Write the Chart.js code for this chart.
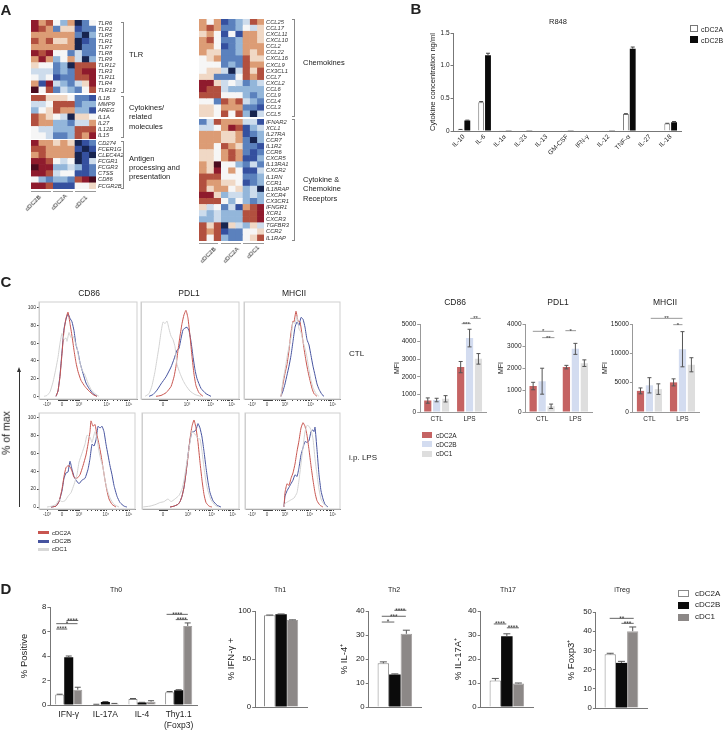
<!DOCTYPE html>
<html>
<head>
<meta charset="utf-8">
<script src="https://cdn.jsdelivr.net/npm/chart.js@4/dist/chart.umd.min.js"></script>
<style>
html, body { margin: 0; padding: 0; background: #fff; }
#page { position: relative; width: 727px; height: 733px; overflow: hidden; font-family: "Liberation Sans", Arial, sans-serif; color: #222; }
#page canvas { position: absolute; }
.t { position: absolute; white-space: nowrap; line-height: 1; will-change: transform; }
.s { position: absolute; box-sizing: border-box; }
</style>
</head>
<body>
<div id="page"></div>
<script>
// panel A: expression level per cell, X R r o p w c l b B N = high to low
const tlrGenes = ["TLR6","TLR2","TLR5","TLR1","TLR7","TLR8","TLR9","TLR12","TLR3","TLR11","TLR4","TLR13"];
const tlrCells = ["RorwloNbw","RrobppBbb","oooooobNl","rorppoNBb","ooooooNbb","RrRwwbcbb","oRolwocNl","pwwblNrrr","cccblbrRR","wcwBbbrrR","oBRclbcpR","Xwrbclbwr"];
const cytoGenes = ["IL1B","MMP9","AREG","IL1A","IL27","IL12B","IL15"];
const cytoCells = ["rrpppwbbB","ccwrrrbll","lwproollB","ropwcNppw","roollbcco","wcclllrrr","wwcbblroR"];
const apcGenes = ["CD274","FCER1G","CLEC4A2","FCGR1","FCGR3","CTSS","CD86","FCGR2B"];
const apcCells = ["RoopopNBb","rrooooBNB","orooooNBN","RRrwcwNBc","XRRllclBb","RRrcwwBBb","wlbllbrRX","RRrBBBwwp"];
const chemoGenes = ["CCL25","CCL17","CXCL11","CXCL10","CCL2","CCL22","CXCL16","CXCL9","CX3CL1","CCL7","CXCL2","CCL6","CCL9","CCL4","CCL3","CCL5"];
const chemoCells = ["owoBblcro","orobblwcp","powBwBoop","orwbbloop","oowBblooo","oppbblopo","wpobbbrpp","wwwblbroo","wppcNcrpr","ppbbbwror","RRpcwcblc","Rrrclllll","rrrwwwlbl","wwbrorclb","ppwooobbB","ppwrwrlNc"];
const recGenes = ["IFNAR2","XCL1","IL27RA","CCR7","IL1R2","CCR6","CXCR5","IL13RA1","CXCR2","IL1RN","CCR1","IL18RAP","CXCR4","CX3CR1","IFNGR1","XCR1","CXCR3","TGFBR3","CCR2","IL1RAP"];
const recCells = ["bcroooccB","ccwoRrBlc","oooppoBbl","oooppobNl","oowropbbB","ppworobBb","ppworoBBl","opXwwlbcb","opRwowBBc","rrrwwwbbl","rooppwBbl","rpoowplcN","RRplcclcl","rrrwlwlbl","pcwbcBorR","clclllrrR","llclllrrR","rprNpclpc","rorBbbwwp","rwrlbbwpr"];
const heatLevels = { X:"#4b0b1e", R:"#8f1b2d", r:"#b2503f", o:"#dc9c75", p:"#f0d8c5", w:"#f6f6f6", c:"#cddcec", l:"#93b6da", b:"#5b81bd", B:"#35509f", N:"#17244f" };

// panel B
const r848Labels = ["IL-10","IL-6","IL-1α","IL-23","IL-13","GM-CSF","IFN-γ","IL-12","TNF-α","IL-27","IL-18"];
const r848A = [0.02,0.44,0.005,0.008,0,0.003,0,0.003,0.26,0.003,0.115];
const r848B = [0.16,1.16,0.005,0.01,0,0.003,0,0.002,1.26,0.006,0.135];
const r848AErr = [0.004,0.01,0,0,0,0,0,0,0.005,0,0.003];
const r848BErr = [0.006,0.03,0,0,0,0,0,0,0.025,0,0.01];

// panel C histograms, [axis position, % of max]
const cd86CtlA = [[17,0],[19,6],[21,22],[23,48],[25,74],[27,88],[29,95],[31,82],[33,68],[35,52],[37,38],[39,28],[42,18],[46,11],[50,6],[54,2],[58,0]];
const cd86CtlB = [[17,0],[19,6],[21,24],[23,50],[25,76],[27,87],[29,93],[31,88],[33,84],[35,74],[37,58],[39,50],[41,38],[44,26],[47,15],[50,9],[54,3],[58,0]];
const cd86CtlG = [[5,0],[8,1],[11,5],[14,16],[17,32],[19,44],[21,60],[23,71],[25,64],[27,66],[28,62],[30,72],[32,66],[34,68],[36,62],[38,55],[40,42],[43,30],[46,24],[49,15],[52,8],[56,3],[60,0]];
const pdl1CtlA = [[15,0],[20,1],[25,4],[30,11],[33,22],[35,34],[37,52],[39,68],[41,82],[43,92],[45,97],[47,88],[49,68],[51,45],[53,25],[55,12],[58,4],[62,0]];
const pdl1CtlB = [[8,0],[12,2],[16,7],[20,14],[25,22],[30,33],[33,42],[36,52],[38,54],[40,65],[42,75],[44,77],[46,78],[48,74],[50,62],[52,45],[54,30],[56,20],[60,9],[65,3],[70,0]];
const pdl1CtlG = [[4,0],[8,3],[11,12],[14,28],[16,42],[18,56],[20,72],[22,84],[24,82],[26,85],[28,76],[30,68],[32,64],[34,56],[36,36],[39,26],[42,18],[45,12],[49,6],[54,2],[60,0]];
const mhcCtlA = [[37,0],[39,14],[41,26],[43,36],[45,52],[47,72],[49,85],[50,84],[52,96],[54,85],[56,84],[58,70],[60,54],[62,40],[64,28],[66,18],[68,9],[70,3],[73,0]];
const mhcCtlB = [[37,0],[39,6],[41,14],[43,24],[45,34],[47,46],[49,62],[51,78],[53,84],[55,80],[57,89],[59,87],[61,78],[63,64],[65,58],[67,46],[69,34],[71,24],[73,14],[75,8],[78,2],[80,0]];
const mhcCtlG = [[37,0],[39,18],[41,30],[43,44],[45,56],[47,66],[49,84],[51,82],[53,90],[55,76],[57,72],[59,62],[61,54],[63,44],[65,30],[67,18],[69,10],[72,3],[75,0]];
const cd86LpsA = [[12,0],[17,1],[20,6],[23,20],[25,34],[27,44],[29,46],[31,45],[33,40],[35,33],[38,32],[41,36],[44,46],[47,58],[49,70],[51,84],[52,96],[54,90],[56,92],[58,80],[60,70],[62,58],[64,44],[66,30],[68,18],[70,9],[73,3],[77,0]];
const cd86LpsB = [[12,0],[17,1],[20,6],[23,18],[25,32],[27,38],[29,39],[31,51],[33,42],[35,34],[37,30],[40,26],[43,30],[46,32],[49,42],[51,54],[53,70],[55,68],[57,75],[59,90],[61,88],[63,90],[65,84],[67,70],[69,58],[71,46],[73,36],[75,24],[78,12],[81,5],[85,1],[88,0]];
const cd86LpsG = [[8,0],[13,1],[17,3],[20,8],[23,6],[26,7],[29,12],[32,16],[35,25],[38,36],[40,50],[43,60],[46,70],[48,80],[51,78],[53,72],[56,84],[58,76],[60,62],[62,52],[64,44],[66,30],[68,20],[71,10],[75,3],[80,0]];
const pdl1LpsA = [[28,0],[32,1],[36,3],[38,6],[40,12],[42,22],[44,38],[46,56],[48,76],[50,90],[52,97],[54,88],[56,72],[58,50],[60,30],[62,14],[64,5],[67,1],[70,0]];
const pdl1LpsB = [[28,0],[32,1],[36,3],[38,6],[40,12],[42,22],[44,38],[46,58],[48,74],[50,84],[52,84],[54,86],[56,93],[58,88],[60,78],[62,62],[64,44],[66,28],[68,16],[71,7],[75,2],[79,0]];
const pdl1LpsG = [[0,0],[8,1],[14,3],[18,5],[22,6],[26,9],[29,6],[33,9],[37,13],[40,20],[42,30],[44,44],[46,58],[48,72],[50,85],[52,82],[54,80],[56,76],[58,76],[60,62],[62,44],[64,28],[66,18],[69,8],[73,2],[77,0]];
const mhcLpsA = [[39,0],[40,16],[42,26],[44,24],[46,32],[48,38],[50,48],[52,62],[54,74],[56,88],[58,94],[60,90],[62,80],[64,64],[66,46],[68,30],[70,16],[72,7],[75,2],[78,0]];
const mhcLpsB = [[39,0],[40,12],[42,18],[44,22],[46,26],[48,30],[50,36],[52,34],[54,44],[56,58],[58,66],[60,73],[62,72],[64,74],[66,84],[68,86],[69,84],[70,89],[72,64],[74,36],[76,18],[78,9],[80,3],[83,0]];
const mhcLpsG = [[39,0],[40,4],[43,6],[46,8],[49,10],[52,16],[54,30],[56,48],[58,66],[60,84],[62,91],[64,90],[66,86],[68,76],[70,54],[72,36],[74,20],[76,9],[79,3],[82,0]];
const histTickLabels = ["-10³","0","10³","10⁴","10⁵"];

// panel C bars
const treatLabels = ["CTL","LPS"];
const cd86MfiA = [650,2550], cd86MfiB = [680,4200], cd86MfiG = [750,3020];
const cd86ErrA = [150,320], cd86ErrB = [100,500], cd86ErrG = [180,300];
const pdl1MfiA = [1180,2040], pdl1MfiB = [1400,2870], pdl1MfiG = [260,2220];
const pdl1ErrA = [170,80], pdl1ErrB = [590,250], pdl1ErrG = [100,150];
const mhcMfiA = [3600,5050], mhcMfiB = [4550,10700], mhcMfiG = [3900,8050];
const mhcErrA = [500,600], mhcErrB = [1300,3000], mhcErrG = [900,1200];

// panel D
const th0Labels = ["IFN-γ","IL-17A","IL-4",["Thy1.1","(Foxp3)"]];
const th0A = [0.85,0.05,0.5,1.05], th0B = [3.9,0.25,0.2,1.2], th0G = [1.25,0.1,0.27,6.45];
const th0ErrA = [0.03,0.01,0.03,0.05], th0ErrB = [0.1,0.03,0.02,0.05], th0ErrG = [0.2,0.03,0.08,0.25];
const th1Vals = [95.5,96.5,90.5], th1Err = [0.3,0.4,0.3];
const th2Vals = [18.2,13.5,30.5], th2Err = [0.6,0.3,1.5];
const th17Vals = [11,29.5,9.8], th17Err = [0.9,1,0.2];
const tregVals = [28,23.5,40], tregErr = [0.5,0.8,2.2];

const page = document.getElementById("page");
Chart.defaults.font.family = '"Liberation Sans", Arial, sans-serif';
Chart.defaults.color = "#222";
Chart.defaults.animation = false;
Chart.defaults.plugins.legend.display = false;
Chart.defaults.plugins.tooltip.enabled = false;

function text(str, x, y, size, extra) {
    let el = document.createElement("div");
    let o = extra || {};
    el.className = "t";
    el.textContent = str;
    el.style.left = x + "px";
    el.style.top = y + "px";
    el.style.fontSize = size + "px";
    if (o.bold) el.style.fontWeight = "bold";
    let shift = o.left ? "translate(0,-50%)" : "translate(-50%,-50%)";
    el.style.transform = shift + (o.rotate ? " rotate(" + o.rotate + "deg)" : "");
    page.appendChild(el);
}

function shape(x, y, w, h, css) {
    let el = document.createElement("div");
    el.className = "s";
    el.style.cssText = "left:" + x + "px;top:" + y + "px;width:" + w + "px;height:" + h + "px;" + css;
    page.appendChild(el);
}

function bracket(x, y, h) {
    shape(x, y, 3, h, "border:1px solid #888;border-left:none;");
}

// canvas placed so that the chart area lands exactly on box [x, y, w, h]
function makeCanvas(box, m) {
    let c = document.createElement("canvas");
    c.width = m.l + box[2] + m.r;
    c.height = m.t + box[3] + m.b;
    c.style.left = (box[0] - m.l) + "px";
    c.style.top = (box[1] - m.t) + "px";
    page.appendChild(c);
    return c;
}

function fixed(m) {
    return {
        layout: { padding: { top: m.t, right: m.r, left: 0, bottom: 0 } },
        responsive: false,
        devicePixelRatio: 1
    };
}

function heatmap(box, genes, cells) {
    let m = { l: 0, r: 50, t: 0, b: 0 };
    let datasets = [];
    for (let col = 0; col < 9; col++) {
        datasets.push({
            data: genes.map(() => 1),
            backgroundColor: cells.map(row => heatLevels[row[col]]),
            borderWidth: 0,
            barPercentage: 1,
            categoryPercentage: 1
        });
    }
    new Chart(makeCanvas(box, m), {
        type: "bar",
        data: { labels: genes, datasets: datasets },
        options: Object.assign(fixed({ t: 0, r: 0 }), {
            indexAxis: "y",
            scales: {
                x: { display: false, stacked: true, min: 0, max: 9 },
                y: {
                    stacked: true,
                    position: "right",
                    afterFit: s => { s.width = m.r; s.paddingTop = 0; s.paddingBottom = 0; },
                    grid: { display: false, drawTicks: false },
                    border: { display: false },
                    ticks: { autoSkip: false, padding: 2, font: { size: 5.8, style: "italic" }, color: "#333" }
                }
            }
        })
    });
}

const errorPlugin = (errs, both, cap, color) => ({
    id: "errs",
    afterDatasetsDraw(chart) {
        let ctx = chart.ctx;
        let yScale = chart.scales.y;
        ctx.save();
        ctx.strokeStyle = color;
        ctx.lineWidth = 1;
        errs.forEach((arr, i) => {
            chart.getDatasetMeta(i).data.forEach((bar, j) => {
                if (!arr[j]) return;
                let v = chart.data.datasets[i].data[j];
                let top = yScale.getPixelForValue(v + arr[j]);
                let bottom = both ? yScale.getPixelForValue(v - arr[j]) : bar.y;
                ctx.beginPath();
                ctx.moveTo(bar.x, bottom);
                ctx.lineTo(bar.x, top);
                ctx.moveTo(bar.x - cap, top);
                ctx.lineTo(bar.x + cap, top);
                if (both) {
                    ctx.moveTo(bar.x - cap, bottom);
                    ctx.lineTo(bar.x + cap, bottom);
                }
                ctx.stroke();
            });
        });
        ctx.restore();
    }
});

// each line: [from, to (category units), y value, stars]
const sigPlugin = (lines, color, size) => ({
    id: "sig",
    afterDraw(chart) {
        let ctx = chart.ctx;
        ctx.save();
        ctx.strokeStyle = color;
        ctx.fillStyle = "#333";
        ctx.lineWidth = 1;
        ctx.font = size + 'px "Liberation Sans"';
        ctx.textAlign = "center";
        lines.forEach(l => {
            let x1 = chart.scales.x.getPixelForValue(l[0]);
            let x2 = chart.scales.x.getPixelForValue(l[1]);
            let y = chart.scales.y.getPixelForValue(l[2]);
            ctx.beginPath();
            ctx.moveTo(x1, y);
            ctx.lineTo(x2, y);
            ctx.stroke();
            ctx.fillText(l[3], (x1 + x2) / 2, y + size * 0.35);
        });
        ctx.restore();
    }
});

function barChart(o) {
    let titleSize = o.titleSize || 8;
    let m = { l: o.box[0] - o.titleX + titleSize * 0.6, r: 8, t: 30, b: 40 };
    let datasets = o.series.map(s => ({
        data: s.values,
        backgroundColor: s.style.bg,
        borderColor: s.style.line || s.style.bg,
        borderWidth: s.style.line ? 1 : 0,
        barPercentage: o.bar,
        categoryPercentage: o.cat
    }));
    let plugins = [errorPlugin(o.series.map(s => s.err), o.both, o.cap, o.errColor || "#555")];
    if (o.lines) plugins.push(sigPlugin(o.lines, o.sigColor || "#666", o.sigSize || 6.5));
    new Chart(makeCanvas(o.box, m), {
        type: "bar",
        data: { labels: o.labels, datasets: datasets },
        plugins: plugins,
        options: Object.assign(fixed(m), {
            scales: {
                x: {
                    afterFit: s => { s.height = m.b; },
                    grid: { display: false, drawTicks: false },
                    border: { color: o.axisColor || "#777" },
                    ticks: {
                        autoSkip: false,
                        padding: o.xPad === undefined ? 3 : o.xPad,
                        minRotation: o.xRotate || 0,
                        maxRotation: o.xRotate || 0,
                        font: { size: o.xSize || o.tickSize }
                    }
                },
                y: {
                    min: 0, max: o.max,
                    afterFit: s => { s.width = m.l; },
                    grid: { drawOnChartArea: false, tickLength: 3, color: o.axisColor || "#777" },
                    border: { color: o.axisColor || "#777" },
                    title: { display: true, text: o.yTitle, padding: 0, font: { size: titleSize } },
                    ticks: { stepSize: o.step, padding: 1, font: { size: o.tickSize }, callback: o.yFmt || (v => v) }
                }
            }
        })
    });
}

const framePlugin = {
    id: "frame",
    beforeDatasetsDraw(chart) {
        let a = chart.chartArea;
        chart.ctx.save();
        chart.ctx.strokeStyle = "#cfcfcf";
        chart.ctx.lineWidth = 1;
        chart.ctx.strokeRect(a.left, a.top, a.right - a.left, a.bottom - a.top);
        chart.ctx.restore();
    }
};

function histogram(box, yRange, majors, tops, showY) {
    let m = { l: 24, r: 4, t: 4, b: 12 };
    let tickVals = [];
    majors.forEach((p, i) => {
        tickVals.push(p);
        if (i > 0 && majors[i + 1] !== undefined) {
            [2, 3, 4, 5, 6, 7, 8, 9].forEach(k => tickVals.push(p + (majors[i + 1] - p) * Math.log10(k)));
        }
    });
    let zero = majors[majors.length - 4];
    [-4, -3, -2, -1, 1, 2, 3, 4].forEach(d => tickVals.push(zero + d));
    let labelFor = {};
    let offset = 5 - majors.length;
    majors.forEach((p, i) => { labelFor[p] = histTickLabels[i + offset]; });
    let colors = ["#d2d2d2", "#c8554f", "#46539f"];
    new Chart(makeCanvas(box, m), {
        type: "line",
        data: {
            datasets: tops.map((series, i) => ({
                data: series,
                borderColor: colors[i],
                borderWidth: 1,
                pointRadius: 0,
                tension: 0.15
            }))
        },
        plugins: [framePlugin],
        options: Object.assign(fixed(m), {
            scales: {
                x: {
                    type: "linear", min: 0, max: box[2],
                    afterFit: s => { s.height = m.b; },
                    afterBuildTicks: s => { s.ticks = tickVals.map(v => ({ value: v })); },
                    grid: { drawOnChartArea: false, tickLength: 2, color: "#444" },
                    border: { color: "#888" },
                    ticks: {
                        autoSkip: false, maxRotation: 0, minRotation: 0, padding: 1,
                        font: { size: 4.5 }, color: "#444",
                        callback: v => labelFor[v] || ""
                    }
                },
                y: {
                    min: yRange[0], max: yRange[1],
                    afterFit: s => { s.width = m.l; },
                    afterBuildTicks: s => { s.ticks = (showY ? [0, 20, 40, 60, 80, 100] : []).map(v => ({ value: v })); },
                    grid: { drawOnChartArea: false, tickLength: 2, color: "#444" },
                    border: { color: "#cfcfcf" },
                    ticks: { padding: 1, font: { size: 5 }, color: "#333" }
                }
            }
        })
    });
}

// ---- panel letters
text("A", 6, 9, 15, { bold: true });
text("B", 416, 8, 15, { bold: true });
text("C", 6, 281, 15, { bold: true });
text("D", 6, 588, 15, { bold: true });

// ---- panel A
heatmap([31, 20, 65.5, 73.3], tlrGenes, tlrCells);
heatmap([31, 95, 65.5, 44], cytoGenes, cytoCells);
heatmap([31, 140, 65.5, 49.7], apcGenes, apcCells);
heatmap([199, 19.2, 65, 98.2], chemoGenes, chemoCells);
heatmap([199, 118.6, 65, 122.1], recGenes, recCells);

bracket(121, 22, 71);
bracket(121, 96, 42);
bracket(121, 141, 48);
text("TLR", 128.5, 55, 7.5, { left: true });
text("Cytokines/", 128.5, 108, 7.5, { left: true });
text("related", 128.5, 117, 7.5, { left: true });
text("molecules", 128.5, 126.5, 7.5, { left: true });
text("Antigen", 128.5, 159, 7.5, { left: true });
text("processing and", 128.5, 168, 7.5, { left: true });
text("presentation", 128.5, 177, 7.5, { left: true });
shape(31, 191, 20, 1, "background:#999;");
shape(53, 191, 20, 1, "background:#999;");
shape(75, 191, 21, 1, "background:#999;");
text("cDC2B", 33, 203, 6.2, { rotate: -45 });
text("cDC2A", 59, 202, 6.2, { rotate: -45 });
text("cDC1", 81, 202, 6.2, { rotate: -45 });

bracket(292, 19, 98);
bracket(292, 119, 122);
text("Chemokines", 302.5, 63, 7.5, { left: true });
text("Cytokine &", 302.5, 180, 7.5, { left: true });
text("Chemokine", 302.5, 189, 7.5, { left: true });
text("Receptors", 302.5, 198.5, 7.5, { left: true });
shape(199, 243, 19, 1, "background:#999;");
shape(221, 243, 20, 1, "background:#999;");
shape(243, 243, 21, 1, "background:#999;");
text("cDC2B", 208, 255, 6.2, { rotate: -45 });
text("cDC2A", 231, 255, 6.2, { rotate: -45 });
text("cDC1", 253, 252, 6.2, { rotate: -45 });

// ---- panel B
const whiteB = { bg: "#ffffff", line: "#777777" };
const blackB = { bg: "#0a0a0a" };
barChart({
    box: [453.5, 33, 228, 98], labels: r848Labels, max: 1.5, step: 0.5,
    series: [{ values: r848A, err: r848AErr, style: whiteB }, { values: r848B, err: r848BErr, style: blackB }],
    cat: 0.66, bar: 0.86, cap: 2, errColor: "#444", both: false,
    yTitle: "Cytokine concentration ng/ml", titleX: 432.5, titleSize: 7.6,
    tickSize: 6.5, xSize: 6.5, xRotate: 45, xPad: 2,
    yFmt: v => (v === 0 ? "0" : v.toFixed(1))
});
text("R848", 558, 22, 7.5);
shape(690, 25, 8, 7, "border:1px solid #777;background:#fff;");
shape(690, 36, 8, 7, "background:#0a0a0a;");
text("cDC2A", 701, 28.5, 7, { left: true });
text("cDC2B", 701, 39.5, 7, { left: true });

// ---- panel C histograms
histogram([39, 302, 98, 97.7], [-3, 106.4], [8, 23, 40, 68, 90], [cd86CtlG, cd86CtlA, cd86CtlB], true);
histogram([141, 302, 98, 97.7], [-3, 106.4], [22, 46, 70, 91], [pdl1CtlG, pdl1CtlA, pdl1CtlB], false);
histogram([244, 302, 96, 97.7], [-3, 106.4], [8, 23, 41, 67, 89], [mhcCtlG, mhcCtlA, mhcCtlB], false);
histogram([39, 412.7, 96, 96.3], [-2.2, 104.8], [8, 23, 40, 67, 90], [cd86LpsG, cd86LpsA, cd86LpsB], true);
histogram([142, 412.7, 97, 96.3], [-2.2, 104.8], [21, 46, 70, 91], [pdl1LpsG, pdl1LpsA, pdl1LpsB], false);
histogram([245, 412.7, 95, 96.3], [-2.2, 104.8], [7, 22, 40, 65, 88], [mhcLpsG, mhcLpsA, mhcLpsB], false);
text("CD86", 89, 293, 8.5);
text("PDL1", 188.5, 293, 8.5);
text("MHCII", 293.5, 293, 8.5);
text("CTL", 349, 354, 8, { left: true });
text("i.p. LPS", 349, 458, 8, { left: true });
text("% of max", 6, 433, 10.5, { rotate: -90 });
shape(19, 370, 1, 137, "background:#333;");
shape(17, 367, 0, 0, "border-left:2.5px solid transparent;border-right:2.5px solid transparent;border-bottom:5px solid #333;");
shape(38, 531, 11, 3, "background:#c8554f;");
shape(38, 539.5, 11, 3, "background:#46539f;");
shape(38, 547.5, 11, 3, "background:#d8d8d8;");
text("cDC2A", 52, 532.5, 6, { left: true });
text("cDC2B", 52, 541, 6, { left: true });
text("cDC1", 52, 549, 6, { left: true });

// ---- panel C bars
const redC = { bg: "#c56363" }, blueC = { bg: "#d3dcf0" }, grayC = { bg: "#dedede" };
function mfiChart(box, max, step, a, b, g, ea, eb, eg, lines, titleX) {
    barChart({
        box: box, labels: treatLabels, max: max, step: step, both: true, cap: 2, errColor: "#555",
        series: [{ values: a, err: ea, style: redC }, { values: b, err: eb, style: blueC }, { values: g, err: eg, style: grayC }],
        cat: 0.81, bar: 0.81, lines: lines, sigColor: "#999", sigSize: 6,
        yTitle: "MFI", titleX: titleX, titleSize: 7, tickSize: 6.5, axisColor: "#999"
    });
}
mfiChart([420, 324, 66.7, 88], 5000, 1000, cd86MfiA, cd86MfiB, cd86MfiG, cd86ErrA, cd86ErrB, cd86ErrG,
    [[0.76, 1.04, 5019, "***"], [1.02, 1.34, 5320, "**"]], 397);
mfiChart([525.3, 324, 66.7, 88], 4000, 1000, pdl1MfiA, pdl1MfiB, pdl1MfiG, pdl1ErrA, pdl1ErrB, pdl1ErrG,
    [[-0.28, 0.35, 3667, "*"], [0, 0.37, 3380, "**"], [0.7, 1.02, 3697, "*"]], 501);
mfiChart([632.7, 324, 66.7, 88], 15000, 5000, mhcMfiA, mhcMfiB, mhcMfiG, mhcErrA, mhcErrB, mhcErrG,
    [[0.04, 1, 15966, "**"], [0.72, 1, 14886, "*"]], 605);
text("CD86", 454.5, 302, 8.5);
text("PDL1", 557.5, 302, 8.5);
text("MHCII", 664.5, 302, 8.5);
shape(422, 432, 10, 6, "background:#c56363;");
shape(422, 441, 10, 6, "background:#d3dcf0;");
shape(422, 451, 10, 6, "background:#dedede;");
text("cDC2A", 436, 435.5, 6.5, { left: true });
text("cDC2B", 436, 445, 6.5, { left: true });
text("cDC1", 436, 454, 6.5, { left: true });

// ---- panel D
const whiteD = { bg: "#ffffff", line: "#8a8a8a" }, blackD = { bg: "#0b0b0b" }, grayD = { bg: "#8c8887", line: "#a5a2a1" };
barChart({
    box: [50.7, 607.3, 146.6, 98.4], labels: th0Labels, max: 8, step: 2,
    series: [{ values: th0A, err: th0ErrA, style: whiteD }, { values: th0B, err: th0ErrB, style: blackD }, { values: th0G, err: th0ErrG, style: grayD }],
    cat: 0.74, bar: 1, cap: 3, errColor: "#555",
    lines: [[-0.34, 0.24, 6.64, "*"], [-0.34, -0.04, 6.2, "****"], [-0.06, 0.26, 6.9, "****"], [2.67, 3.25, 7.4, "****"], [2.92, 3.25, 6.97, "****"]],
    sigColor: "#666", sigSize: 6.5,
    yTitle: "% Positive", titleX: 25, titleSize: 9.5, tickSize: 7.8, xSize: 8.5, xPad: 5
});
function singleChart(box, max, step, vals, errs, lines, title, titleX) {
    barChart({
        box: box, labels: [""], max: max, step: step, cat: 0.66, bar: 1, cap: 3.5, errColor: "#555",
        series: [
            { values: [vals[0]], err: [errs[0]], style: whiteD },
            { values: [vals[1]], err: [errs[1]], style: blackD },
            { values: [vals[2]], err: [errs[2]], style: grayD }
        ],
        lines: lines, sigColor: "#666", sigSize: 6.5,
        yTitle: title, titleX: titleX, titleSize: 9.5, tickSize: 7.8
    });
}
singleChart([255, 611, 52.7, 96.7], 100, 50, th1Vals, th1Err, null, "% IFN-γ +", 231.5);
singleChart([369, 611, 52.7, 96.7], 40, 10, th2Vals, th2Err,
    [[-0.25, -0.01, 35.4, "*"], [-0.25, 0.21, 37.8, "***"], [-0.01, 0.22, 40.3, "****"]], "% IL-4⁺", 345);
singleChart([481, 611.3, 52.3, 96.4], 40, 10, th17Vals, th17Err,
    [[-0.25, -0.01, 34.6, "****"], [0, 0.23, 33, "****"]], "% IL-17A⁺", 459);
singleChart([595.7, 612, 52, 96], 50, 10, tregVals, tregErr,
    [[-0.23, 0.24, 46.7, "**"], [0, 0.24, 44.1, "***"]], "% Foxp3⁺", 571.5);
text("Th0", 116, 589, 7);
text("Th1", 280, 589, 7);
text("Th2", 393.5, 589, 7);
text("Th17", 507.5, 589, 7);
text("iTreg", 622, 589, 7);
shape(678, 590, 11, 7, "border:1px solid #8a8a8a;background:#fff;");
shape(678, 602, 11, 6.5, "background:#0b0b0b;");
shape(678, 614, 11, 6.5, "background:#8c8887;");
text("cDC2A", 694.5, 593.5, 8, { left: true });
text("cDC2B", 694.5, 605, 8, { left: true });
text("cDC1", 694.5, 617, 8, { left: true });
</script>
</body>
</html>
